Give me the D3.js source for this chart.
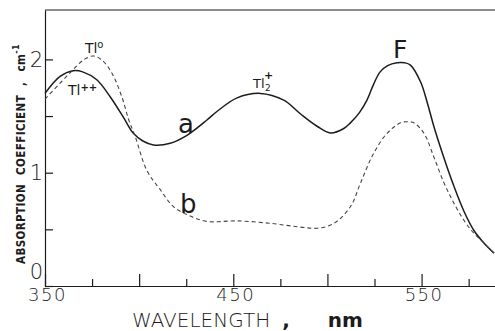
<!DOCTYPE html>
<html>
<head>
<meta charset="utf-8">
<script src="https://cdn.jsdelivr.net/npm/d3@7"></script>
<style>
  body { margin: 0; background: #fff; }
  svg { display: block; }
</style>
</head>
<body>
<div id="chart"></div>
<script>
// Absorption spectra (wavelength in nm, coefficient in cm^-1)
const wavelengthA = [350, 358, 365, 370, 377.5, 384.6, 391.6, 396.8, 402, 407.6, 416.5, 425.4, 436, 441.3,
  452, 464.4, 476.8, 485.6, 494.5, 501.6, 508.7, 512.2, 517, 521, 524.5, 528, 532, 537, 541, 544.1,
  549.5, 553, 556.5, 561.9, 567.2, 572.5, 577.8, 583.1, 588.5];
const curveA = [1.70, 1.85, 1.90, 1.89, 1.82, 1.67, 1.49, 1.35, 1.28, 1.245, 1.26, 1.33, 1.465, 1.54,
  1.66, 1.70, 1.64, 1.52, 1.41, 1.35, 1.39, 1.44, 1.53, 1.64, 1.78, 1.89, 1.945, 1.97, 1.97, 1.95,
  1.80, 1.62, 1.41, 1.13, 0.88, 0.66, 0.49, 0.38, 0.29];

const wavelengthB = [350, 358, 365, 370.4, 375.7, 380.2, 385.5, 390.8, 394.5, 397.9, 404.1, 411.2, 418.2,
  425.4, 436, 452, 469.7, 485.6, 494.5, 503.2, 512.2, 517.6, 524.5, 531.8, 538.8, 542.4, 545.9,
  551.2, 556.5, 561.9, 567.2, 572.5, 577.8, 583.1, 588.5];
const curveB = [1.65, 1.79, 1.91, 1.995, 2.03, 1.995, 1.88, 1.67, 1.465, 1.32, 1.02, 0.85, 0.70,
  0.63, 0.57, 0.575, 0.553, 0.52, 0.51, 0.55, 0.70, 0.91, 1.17, 1.35, 1.44, 1.45, 1.44,
  1.35, 1.14, 0.91, 0.73, 0.58, 0.465, 0.38, 0.29];

const xTicks = [350, 375, 400, 425, 450, 475, 500, 525, 550, 575];
const xLabels = [350, 450, 550];
const yTicks = [0, 0.5, 1, 1.5, 2];
const yLabels = [0, 1, 2];

const width = 495, height = 331;
const plotLeft = 45, plotTop = 10, plotBottom = 286;

const svg = d3.select("#chart").append("svg")
  .attr("width", width)
  .attr("height", height);

const x = d3.scaleLinear().domain([350, 589]).range([plotLeft, width]);
const y = d3.scaleLinear().domain([0, 2.436]).range([plotBottom, plotTop]);

const ink = "#1c1c1c";
const digitFont = "'DejaVu Sans', sans-serif";

// frame top line
svg.append("line")
  .attr("x1", plotLeft).attr("x2", width)
  .attr("y1", plotTop).attr("y2", plotTop)
  .attr("stroke", ink).attr("stroke-width", 1.2);

// x axis, ticks pointing up into the plot
const gx = svg.append("g")
  .attr("transform", `translate(0,${plotBottom})`)
  .call(d3.axisBottom(x)
    .tickValues(xTicks)
    .tickSize(-7)
    .tickSizeOuter(0)
    .tickPadding(2)
    .tickFormat(d => xLabels.includes(d) ? d : ""));

gx.selectAll(".tick line").attr("y2", d => d % 50 === 0 ? -12 : -7);
gx.selectAll(".tick text")
  .attr("dx", 2)
  .style("font-family", digitFont)
  .style("font-weight", 200)
  .style("font-size", "18px")
  .style("letter-spacing", "1.5px");

// y axis, ticks pointing right
const gy = svg.append("g")
  .attr("transform", `translate(${plotLeft},0)`)
  .call(d3.axisLeft(y)
    .tickValues(yTicks)
    .tickSize(-8)
    .tickSizeOuter(0)
    .tickPadding(2)
    .tickFormat(d => yLabels.includes(d) ? d : ""));

gy.selectAll(".tick text")
  .attr("dy", d => d === 0 ? "-0.36em" : "0.32em")
  .style("font-family", digitFont)
  .style("font-weight", 200)
  .style("font-size", "21px");

svg.selectAll(".domain, .tick line").attr("stroke", ink).attr("stroke-width", 1.2);
svg.selectAll(".tick text").attr("fill", ink);

// curves
const lineA = d3.line().x((d, i) => x(wavelengthA[i])).y(d => y(d)).curve(d3.curveCatmullRom.alpha(0.5));
const lineB = d3.line().x((d, i) => x(wavelengthB[i])).y(d => y(d)).curve(d3.curveCatmullRom.alpha(0.5));

svg.append("path")
  .datum(curveA)
  .attr("d", lineA)
  .attr("fill", "none")
  .attr("stroke", ink)
  .attr("stroke-width", 1.5);

svg.append("path")
  .datum(curveB)
  .attr("d", lineB)
  .attr("fill", "none")
  .attr("stroke", "#444")
  .attr("stroke-width", 1.1)
  .attr("stroke-dasharray", "4,3");

// axis titles
const xTitle = svg.append("text")
  .attr("x", 132).attr("y", 327)
  .attr("fill", ink)
  .style("font-family", digitFont)
  .style("font-weight", 200)
  .style("font-size", "20px")
  .text("WAVELENGTH");
xTitle.append("tspan").attr("dx", 12).style("font-weight", "bold").text(",");
xTitle.append("tspan")
  .attr("dx", 38)
  .style("font-weight", "bold")
  .text("nm");

const yTitle = svg.append("text")
  .attr("transform", "translate(25,264) rotate(-90)")
  .attr("fill", ink)
  .style("font-family", "'DejaVu Sans Condensed', 'DejaVu Sans', sans-serif")
  .style("font-weight", "bold")
  .style("font-size", "11.5px")
  .style("letter-spacing", "0.4px")
  .style("word-spacing", "5px")
  .text("ABSORPTION COEFFICIENT ,");
yTitle.append("tspan").attr("dx", 10).text("cm");
yTitle.append("tspan").attr("dy", -6).style("font-size", "9px").text("-1");

// curve annotations
const annot = svg.append("g")
  .attr("fill", ink)
  .style("font-family", digitFont);

annot.append("text").attr("x", x(420.6)).attr("y", y(1.35)).style("font-size", "26px").text("a");
annot.append("text").attr("x", x(421.7)).attr("y", y(0.644)).style("font-size", "26px").text("b");
annot.append("text").attr("x", x(534.8)).attr("y", y(2.01)).style("font-size", "25px").text("F");

const tl0 = annot.append("text").attr("x", x(371.2)).attr("y", y(2.056))
  .style("font-size", "14px").text("Tl");
tl0.append("tspan").attr("dy", -5).style("font-size", "10px").text("o");

const tlpp = annot.append("text").attr("x", x(362.2)).attr("y", y(1.686))
  .style("font-size", "14px").text("Tl");
tlpp.append("tspan").attr("dy", -4).style("font-size", "10px").style("font-weight", "bold").text("++");

annot.append("text").attr("x", x(460.5)).attr("y", y(1.748))
  .style("font-size", "13px").text("Tl");
annot.append("text").attr("x", x(460.5) + 12).attr("y", y(1.748) + 3)
  .style("font-size", "9px").text("2");
annot.append("text").attr("x", x(460.5) + 11).attr("y", y(1.748) - 9)
  .style("font-size", "11px").style("font-weight", "bold").text("+");
</script>
</body>
</html>
